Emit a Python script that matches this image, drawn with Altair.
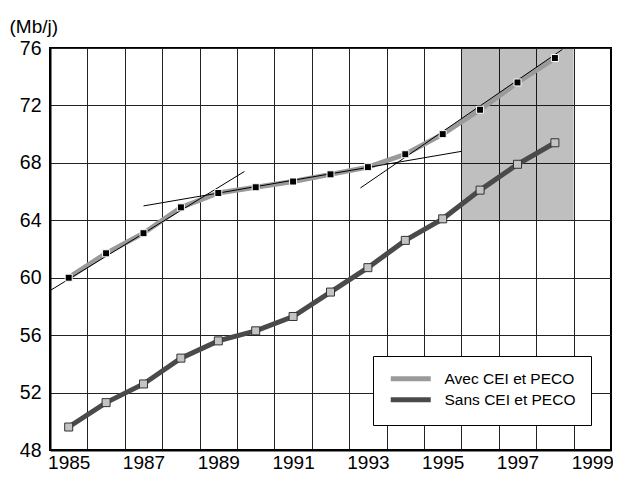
import altair as alt
import pandas as pd

# ---- data ----
years = [1985, 1986, 1987, 1988, 1989, 1990, 1991, 1992, 1993, 1994, 1995, 1996, 1997, 1998]
avec = [60.0, 61.7, 63.1, 64.9, 65.9, 66.3, 66.7, 67.2, 67.7, 68.6, 70.0, 71.7, 73.6, 75.3]
sans = [49.6, 51.3, 52.6, 54.4, 55.6, 56.3, 57.3, 59.0, 60.7, 62.6, 64.1, 66.1, 67.9, 69.4]
series_names = ["Avec CEI et PECO", "Sans CEI et PECO"]

trend_id = [1, 1, 2, 2, 3, 3]
trend_x = [1984.5, 1989.7, 1987.0, 1995.5, 1992.8, 1998.2]
trend_y = [59.1, 67.4, 65.0, 68.8, 66.25, 75.9]

shade_x = [1995.5]
shade_x2 = [1998.5]
shade_y = [64]
shade_y2 = [76]

x_ticks = list(range(1985, 2000))
y_ticks = [48, 52, 56, 60, 64, 68, 72, 76]

W, H = 561, 402
half_band = W / 15 / 2
FONT = "Liberation Sans"

df = pd.DataFrame({
    "annee": years * 2,
    "valeur": avec + sans,
    "serie": [series_names[0]] * len(years) + [series_names[1]] * len(years),
})
df_trend = pd.DataFrame({"id": trend_id, "annee": trend_x, "valeur": trend_y})
df_shade = pd.DataFrame({"x": shade_x, "x2": shade_x2, "y": shade_y, "y2": shade_y2})

x_axis = alt.Axis(
    values=x_ticks, format="d", title=None, grid=True, ticks=False, tickSize=0,
    tickOffset=-half_band, labelOffset=half_band,
    labelExpr="datum.value % 2 == 1 ? datum.label : ''",
    labelFontSize=19, labelFont=FONT, labelColor="black", labelPadding=3,
    domainColor="black", domainWidth=2, gridColor="#222", gridWidth=1,
)
y_axis = alt.Axis(
    values=y_ticks, title="(Mb/j)", titleAngle=0, titleAlign="left",
    titleBaseline="alphabetic", titleX=-41, titleY=-16, titleFontSize=19,
    titleFontWeight="normal", titleFont=FONT, titleColor="black",
    grid=True, ticks=False, tickSize=0, labelFontSize=19.5, labelFont=FONT,
    labelColor="black", labelPadding=9, domainColor="black", domainWidth=2,
    gridColor="#222", gridWidth=1,
)
x_scale = alt.Scale(domain=[1984.5, 1999.5], nice=False, zero=False)
y_scale = alt.Scale(domain=[48, 76], nice=False, zero=False)


def X(field):
    return alt.X(field, type="quantitative", scale=x_scale, axis=x_axis)


def Y(field):
    return alt.Y(field, type="quantitative", scale=y_scale, axis=y_axis)


shade = alt.Chart(df_shade).mark_rect(color="black", opacity=0.25).encode(
    x=X("x"), x2="x2", y=Y("y"), y2="y2"
)

lines = alt.Chart(df).mark_line(strokeWidth=5).encode(
    x=X("annee"), y=Y("valeur"),
    color=alt.Color(
        "serie:N",
        scale=alt.Scale(domain=series_names, range=["#9a9a9a", "#4a4a4a"]),
        legend=alt.Legend(
            title=None, orient="none", legendX=323, legendY=308,
            symbolType="M-4,0H4", symbolSize=100, symbolStrokeWidth=5,
            symbolOffset=15,
            labelFontSize=15.5, labelFont=FONT, labelColor="black",
            fillColor="white", strokeColor="black", padding=15,
            rowPadding=0, labelOffset=26,
        ),
    ),
)

trend = alt.Chart(df_trend).mark_line(color="black", strokeWidth=1).encode(
    x=X("annee"), y=Y("valeur"), detail="id:N"
)

pts_avec = alt.Chart(df[df.serie == series_names[0]]).mark_square(
    size=49, fill="black", stroke="white", strokeWidth=1, opacity=1
).encode(x=X("annee"), y=Y("valeur"))

pts_sans = alt.Chart(df[df.serie == series_names[1]]).mark_square(
    size=64, fill="#c4c4c4", stroke="#333", strokeWidth=1, opacity=1
).encode(x=X("annee"), y=Y("valeur"))

# total chart 605 x 468 so the page (with 8px margins) does not overflow
chart = alt.layer(shade, lines, trend, pts_avec, pts_sans).properties(
    width=W, height=H,
    autosize=alt.AutoSizeParams(type="none"),
    padding={"left": 42, "top": 40, "right": 2, "bottom": 26},
    background="white",
).configure_view(stroke="black", strokeWidth=2)

chart.save("out.html", embed_options={"renderer": "svg", "actions": False})
